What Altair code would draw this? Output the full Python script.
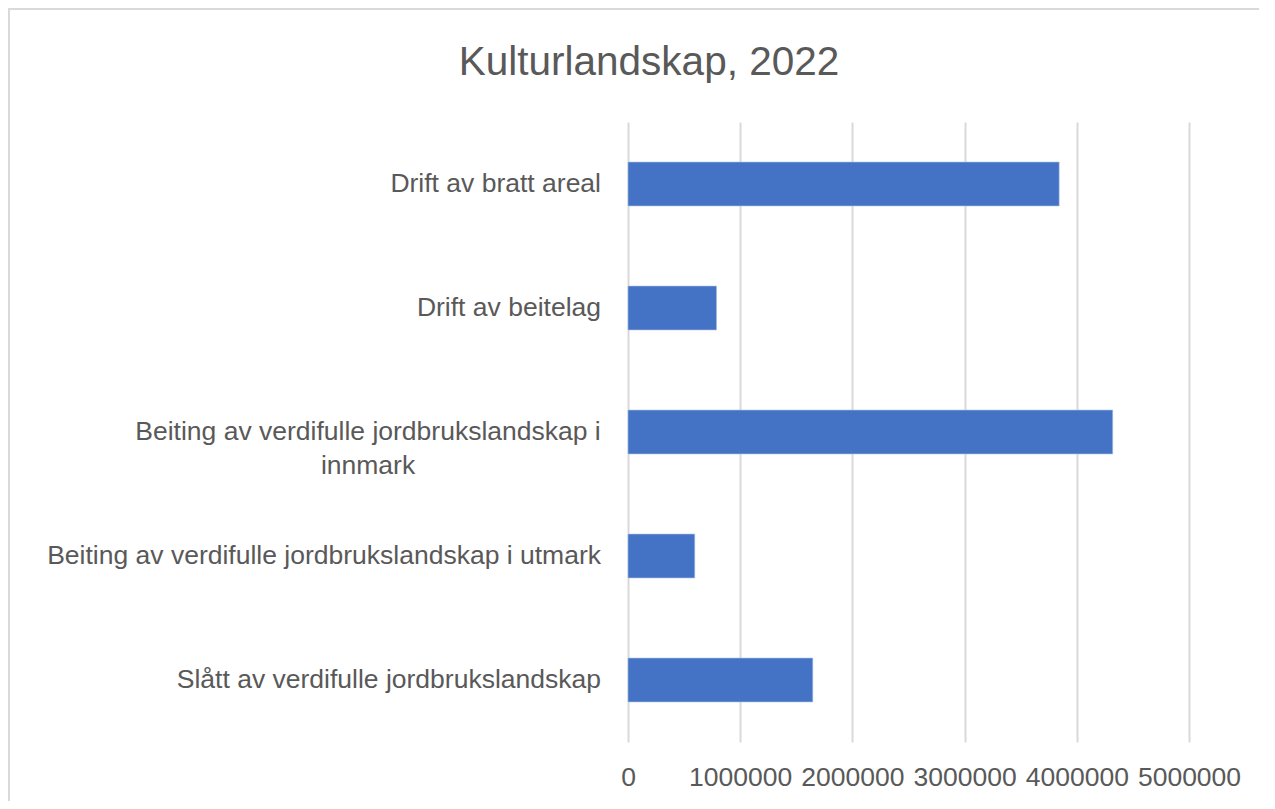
import altair as alt
import pandas as pd

title_text = "Kulturlandskap, 2022"
categories = [
    "Drift av bratt areal",
    "Drift av beitelag",
    "Beiting av verdifulle jordbrukslandskap i innmark",
    "Beiting av verdifulle jordbrukslandskap i utmark",
    "Slått av verdifulle jordbrukslandskap",
]
label_lines = [
    ["Drift av bratt areal"],
    ["Drift av beitelag"],
    ["Beiting av verdifulle jordbrukslandskap i", "innmark"],
    ["Beiting av verdifulle jordbrukslandskap i utmark"],
    ["Slått av verdifulle jordbrukslandskap"],
]
values = [3843000, 789000, 4320000, 595000, 1647000]
x_ticks = [0, 1000000, 2000000, 3000000, 4000000, 5000000]

df = pd.DataFrame({
    "kategori": categories,
    "verdi": values,
    "etikett": label_lines,
    "linjer": [len(l) for l in label_lines],
})
title_df = pd.DataFrame({"tittel": [title_text]})

FONT = "Liberation Sans"
GREY = "#595959"
BLUE = "#4472C4"

y_enc = alt.Y(
    "kategori:N",
    sort=categories,
    scale=alt.Scale(paddingInner=0.646, paddingOuter=0.323),
    axis=None,
)

bars = alt.Chart(df).mark_bar(color=BLUE, stroke="#a9c0e8", strokeWidth=0.6).encode(
    x=alt.X(
        "verdi:Q",
        scale=alt.Scale(domain=[0, 5000000], nice=False),
        axis=alt.Axis(
            values=x_ticks,
            format="d",
            title=None,
            grid=True,
            gridColor="#d9d9d9",
            gridWidth=2,
            domain=False,
            ticks=False,
            labelFont=FONT,
            labelFontSize=26.5,
            labelColor=GREY,
            labelPadding=22,
            labelOverlap=False,
            labelFlush=False,
        ),
    ),
    y=y_enc,
)

single = alt.Chart(df).transform_filter("datum.linjer == 1").mark_text(
    align="right", baseline="middle", font=FONT, fontSize=26.5, color=GREY
).encode(
    y=y_enc,
    x=alt.value(-27),
    text="etikett",
)

multi = alt.Chart(df).transform_filter("datum.linjer > 1").mark_text(
    align="center", baseline="middle", font=FONT, fontSize=26.5, color=GREY, lineHeight=34
).encode(
    y=y_enc,
    x=alt.value(-260),
    text="etikett",
)

title = alt.Chart(title_df).mark_text(
    align="center", baseline="alphabetic", font=FONT, fontSize=40.5, color=GREY
).encode(
    x=alt.value(21),
    y=alt.value(-47),
    text="tittel:N",
)

frame_left = alt.Chart(df).mark_rule(color="#d9d9d9", strokeWidth=2).encode(
    x=alt.value(-619), y=alt.value(-114), y2=alt.value(680)
)
frame_top = alt.Chart(df).mark_rule(color="#d9d9d9", strokeWidth=2).encode(
    x=alt.value(-619), x2=alt.value(640), y=alt.value(-113)
)

chart = alt.layer(frame_left, frame_top, bars, single, multi, title).properties(
    width=561,
    height=620,
    padding={"left": 620, "top": 114, "right": 70, "bottom": 59},
    autosize=alt.AutoSizeParams(type="none"),
).configure_view(stroke=None)

chart.save("out.html", embed_options={"renderer": "svg", "actions": False})
